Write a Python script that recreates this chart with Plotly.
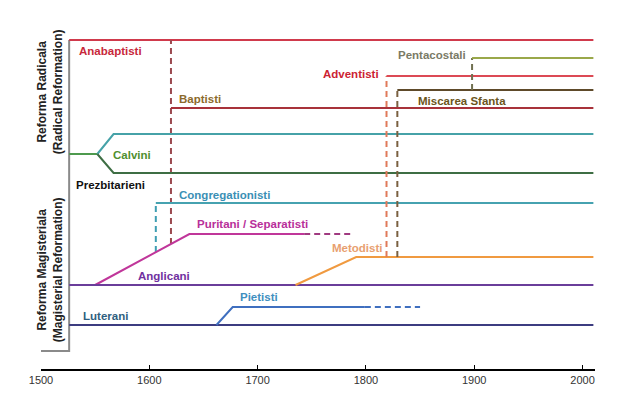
import plotly.graph_objects as go

# ---------------- data (years, lane levels) ----------------
bracket_years = [1500, 1526, 1526]
bracket_lanes = [18, 18, 329]

anabaptisti_years = [1526, 2010]
anabaptisti_lanes = [329, 329]

baptisti_years = [1620, 2010]
baptisti_lanes = [261, 261]
baptisti_link_years = [1620, 1620]
baptisti_link_lanes = [125, 329]

calvini_years = [1526, 1552]
calvini_lanes = [215, 215]
calvini_up_years = [1552, 1567, 2010]
calvini_up_lanes = [215, 235, 235]
prezbit_years = [1552, 1567, 2010]
prezbit_lanes = [215, 196, 196]

congreg_years = [1606, 2010]
congreg_lanes = [166, 166]
congreg_link_years = [1606, 1606]
congreg_link_lanes = [117, 166]

puritani_years = [1550, 1637, 1743]
puritani_lanes = [84, 135, 135]
puritani_dash_years = [1743, 1787]
puritani_dash_lanes = [135, 135]

anglicani_years = [1526, 2010]
anglicani_lanes = [84, 84]

metodisti_years = [1735, 1791, 2010]
metodisti_lanes = [84, 112, 112]

adventisti_years = [1819, 2010]
adventisti_lanes = [293, 293]
adventisti_link_years = [1819, 1819]
adventisti_link_lanes = [112, 293]

sfanta_years = [1829, 2010]
sfanta_lanes = [279, 279]
sfanta_link_years = [1829, 1829]
sfanta_link_lanes = [112, 279]

pentacostali_years = [1898, 2010]
pentacostali_lanes = [311, 311]
pentacostali_link_years = [1898, 1898]
pentacostali_link_lanes = [279, 311]

luterani_years = [1526, 2010]
luterani_lanes = [44, 44]

pietisti_years = [1662, 1677, 1799]
pietisti_lanes = [44, 62, 62]
pietisti_dash_years = [1799, 1850]
pietisti_dash_lanes = [62, 62]

label_texts = ["Anabaptisti", "Baptisti", "Pentacostali", "Adventisti", "Miscarea Sfanta",
               "Calvini", "Prezbitarieni", "Congregationisti", "Puritani / Separatisti",
               "Metodisti", "Anglicani", "Pietisti", "Luterani"]
label_years = [1533, 1625.5, 1827.5, 1814, 1846, 1564.5, 1530.5, 1625.5, 1642,
               1767, 1587.5, 1682, 1537]
label_lanes = [318, 270, 314, 295, 268, 214, 184, 174, 145, 121, 93, 72, 53]
label_anchor = ["left", "left", "left", "right", "left", "left", "left", "left", "left",
                "left", "left", "left", "left"]
label_colors = ["#C8283C", "#8C6A2C", "#7A7A66", "#CC2233", "#6B5520", "#4F8F2F", "#111111",
                "#3A8FB5", "#B8309A", "#E8A070", "#7030A0", "#3F8FC0", "#2F5F7F"]

tick_years = [1500, 1600, 1700, 1800, 1900, 2000]
tick_labels = ["1500", "1600", "1700", "1800", "1900", "2000"]

group_texts = ["Reforma Radicala<br>(Radical Reformation)",
               "Reforma Magisteriala<br>(Magisterial Reformation)"]
group_years = [1508.5, 1508.5]
group_lanes = [277, 99]

# ---------------- figure ----------------
fig = go.Figure()
DASH = "6px,4px"


def add(xs, ys, color, dash="solid", width=2):
    fig.add_trace(go.Scatter(x=xs, y=ys, mode="lines",
                             line=dict(color=color, width=width, dash=dash),
                             hoverinfo="skip", showlegend=False))


add(bracket_years, bracket_lanes, "#8A8A8A", width=2)
add(anabaptisti_years, anabaptisti_lanes, "#D03A4C")
add(baptisti_link_years, baptisti_link_lanes, "#9C4A50", DASH)
add(baptisti_years, baptisti_lanes, "#A8323A")
add(calvini_years, calvini_lanes, "#4E9A4E")
add(calvini_up_years, calvini_up_lanes, "#46A2A8")
add(prezbit_years, prezbit_lanes, "#3E6E44")
add(congreg_link_years, congreg_link_lanes, "#3E9EB2", DASH)
add(congreg_years, congreg_lanes, "#46A2B0")
add(puritani_years, puritani_lanes, "#C0369A")
add(puritani_dash_years, puritani_dash_lanes, "#A03A80", DASH)
add(anglicani_years, anglicani_lanes, "#6A3D9A")
add(metodisti_years, metodisti_lanes, "#F09A40")
add(adventisti_link_years, adventisti_link_lanes, "#E07A5A", DASH)
add(adventisti_years, adventisti_lanes, "#DC4A55")
add(sfanta_link_years, sfanta_link_lanes, "#7A6040", DASH)
add(sfanta_years, sfanta_lanes, "#5E4A2A")
add(pentacostali_link_years, pentacostali_link_lanes, "#707050", DASH)
add(pentacostali_years, pentacostali_lanes, "#9AA84A")
add(luterani_years, luterani_lanes, "#3C3C80")
add(pietisti_years, pietisti_lanes, "#3F6FBF")
add(pietisti_dash_years, pietisti_dash_lanes, "#3F6FBF", DASH)

FONT = "Liberation Sans, Arial, sans-serif"

for t, xv, yv, a, c in zip(label_texts, label_years, label_lanes, label_anchor, label_colors):
    fig.add_annotation(x=xv, y=yv, text="<b>%s</b>" % t, showarrow=False,
                       xanchor=a, yanchor="middle",
                       font=dict(family=FONT, size=11.5, color=c))

for t, xv, yv in zip(group_texts, group_years, group_lanes):
    fig.add_annotation(x=xv, y=yv, text="<b>%s</b>" % t, showarrow=False,
                       textangle=-90, xanchor="center", yanchor="middle", align="center",
                       font=dict(family=FONT, size=12, color="#222222"))

fig.update_layout(
    width=632, height=394,
    margin=dict(l=33, r=45, t=12, b=33),
    paper_bgcolor="white", plot_bgcolor="white",
    xaxis=dict(range=[1500, 2011.5], tickvals=tick_years, ticktext=tick_labels,
               showgrid=False, zeroline=False, showline=True, linecolor="black",
               linewidth=2, ticks="inside", ticklen=4, tickcolor="black", tickwidth=1,
               tickfont=dict(family=FONT, size=11, color="#333333"), fixedrange=True),
    yaxis=dict(range=[0, 349], visible=False, fixedrange=True),
)

fig.write_html("out.html")
